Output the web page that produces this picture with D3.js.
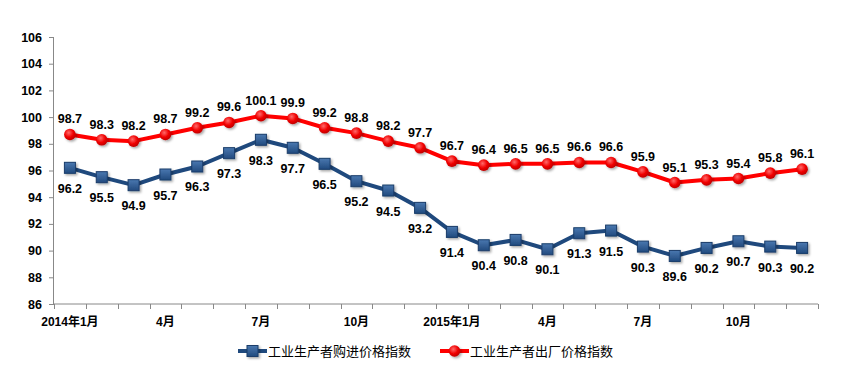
<!DOCTYPE html>
<html><head><meta charset="utf-8">
<script src="https://cdn.jsdelivr.net/npm/d3@7"></script>
<style>body{margin:0;background:#fff}svg{display:block}</style>
</head><body>
<svg id="c" width="852" height="374"></svg>
<script>
const categories = ["2014年1月","2月","3月","4月","5月","6月","7月","8月","9月","10月","11月","12月",
  "2015年1月","2月","3月","4月","5月","6月","7月","8月","9月","10月","11月","12月"];
const purchase = [96.2,95.5,94.9,95.7,96.3,97.3,98.3,97.7,96.5,95.2,94.5,93.2,91.4,90.4,90.8,90.1,91.3,91.5,90.3,89.6,90.2,90.7,90.3,90.2];
const factory = [98.7,98.3,98.2,98.7,99.2,99.6,100.1,99.9,99.2,98.8,98.2,97.7,96.7,96.4,96.5,96.5,96.6,96.6,95.9,95.1,95.3,95.4,95.8,96.1];
const yTicks = [86,88,90,92,94,96,98,100,102,104,106];
const seriesNames = ["工业生产者购进价格指数","工业生产者出厂价格指数"];

const svg = d3.select("#c");
const mLeft = 54, mRight = 818, mTop = 37, mBottom = 304;
const x = d3.scaleBand().domain(d3.range(categories.length)).range([mLeft, mRight]);
const y = d3.scaleLinear().domain([86,106]).range([mBottom, mTop]);
const cx = i => x(i) + x.bandwidth()/2;

const defs = svg.append("defs");
const rg = defs.append("radialGradient").attr("id","rg").attr("cx","40%").attr("cy","35%").attr("r","65%");
rg.append("stop").attr("offset","0%").attr("stop-color","#ff6a6a");
rg.append("stop").attr("offset","60%").attr("stop-color","#f00000");
rg.append("stop").attr("offset","100%").attr("stop-color","#c00000");
const bg = defs.append("linearGradient").attr("id","bg").attr("x1","0").attr("y1","0").attr("x2","0").attr("y2","1");
bg.append("stop").attr("offset","0%").attr("stop-color","#4a78b0");
bg.append("stop").attr("offset","100%").attr("stop-color","#214a7e");
const sh = defs.append("filter").attr("id","sh").attr("x","-50%").attr("y","-50%").attr("width","200%").attr("height","200%");
sh.append("feDropShadow").attr("dx",1.5).attr("dy",1.5).attr("stdDeviation",1.2).attr("flood-color","#000").attr("flood-opacity",0.35);

// y axis
const yAxis = svg.append("g").attr("transform",`translate(${mLeft},0)`)
  .call(d3.axisLeft(y).tickValues(yTicks).tickSize(5).tickPadding(7).tickFormat(d3.format("d")));
yAxis.select(".domain").attr("stroke","#888").attr("d",`M-0.5,${mTop}V${mBottom}`);
yAxis.selectAll(".tick line").attr("stroke","#888");
yAxis.selectAll("text").attr("font-family","'Liberation Sans',Arial,sans-serif").attr("font-weight","bold")
  .attr("font-size","12.5px").attr("fill","#000");

// x axis
const xg = svg.append("g").attr("transform",`translate(0,${mBottom})`);
xg.append("line").attr("x1",mLeft).attr("x2",mRight).attr("stroke","#888");
const bounds = d3.range(categories.length+1).map(i => i < categories.length ? x(i) : mRight);
xg.selectAll("line.t").data(bounds).join("line").attr("class","t")
  .attr("x1",d=>Math.round(d)+0.5).attr("x2",d=>Math.round(d)+0.5).attr("y1",0).attr("y2",5).attr("stroke","#888");
const shownIdx = d3.range(categories.length).filter(i => i % 3 === 0);
xg.selectAll("text").data(shownIdx).join("text")
  .attr("x",i=>cx(i)).attr("y",22).attr("text-anchor","middle")
  .attr("font-family","'Liberation Sans','Noto Sans CJK SC',sans-serif").attr("font-weight","bold").attr("font-size","12px")
  .text(i => categories[i]);

const line = d3.line().x((d,i)=>cx(i)).y(d=>y(d));
svg.append("path").datum(purchase).attr("d",line).attr("fill","none").attr("stroke","#1f497d").attr("stroke-width",4).attr("stroke-linejoin","round");
svg.append("path").datum(factory).attr("d",line).attr("fill","none").attr("stroke","#ff0000").attr("stroke-width",4).attr("stroke-linejoin","round");

function square(g, px, py){
  g.append("rect").attr("x",px-5.5).attr("y",py-5.5).attr("width",11).attr("height",11)
    .attr("fill","url(#bg)").attr("stroke","#1a3d6a").attr("stroke-width",1).attr("filter","url(#sh)");
}
function circle(g, px, py){
  g.append("circle").attr("cx",px).attr("cy",py).attr("r",5.8).attr("fill","url(#rg)").attr("filter","url(#sh)");
}
const mk = svg.append("g");
purchase.forEach((d,i)=>square(mk, cx(i), y(d)));
factory.forEach((d,i)=>circle(mk, cx(i), y(d)));

const lab = svg.append("g").attr("font-family","'Liberation Sans',Arial,sans-serif").attr("font-weight","bold").attr("font-size","12.5px").attr("text-anchor","middle");
lab.selectAll("text.p").data(purchase).join("text").attr("class","p")
  .attr("x",(d,i)=>cx(i)).attr("y",d=>y(d)+25).text(d=>d.toFixed(1));
lab.selectAll("text.f").data(factory).join("text").attr("class","f")
  .attr("x",(d,i)=>cx(i)).attr("y",d=>y(d)-11).text(d=>d.toFixed(1));

// legend
const lg = svg.append("g").attr("font-family","'Noto Sans CJK SC',sans-serif").attr("font-size","13px");
lg.append("line").attr("x1",238).attr("x2",267).attr("y1",351).attr("y2",351).attr("stroke","#1f497d").attr("stroke-width",4);
square(lg, 252.5, 351);
lg.append("text").attr("x",268).attr("y",355.5).text(seriesNames[0]);
lg.append("line").attr("x1",440).attr("x2",469).attr("y1",351).attr("y2",351).attr("stroke","#ff0000").attr("stroke-width",4);
circle(lg, 454.5, 351);
lg.append("text").attr("x",470).attr("y",355.5).text(seriesNames[1]);
</script>
</body></html>
